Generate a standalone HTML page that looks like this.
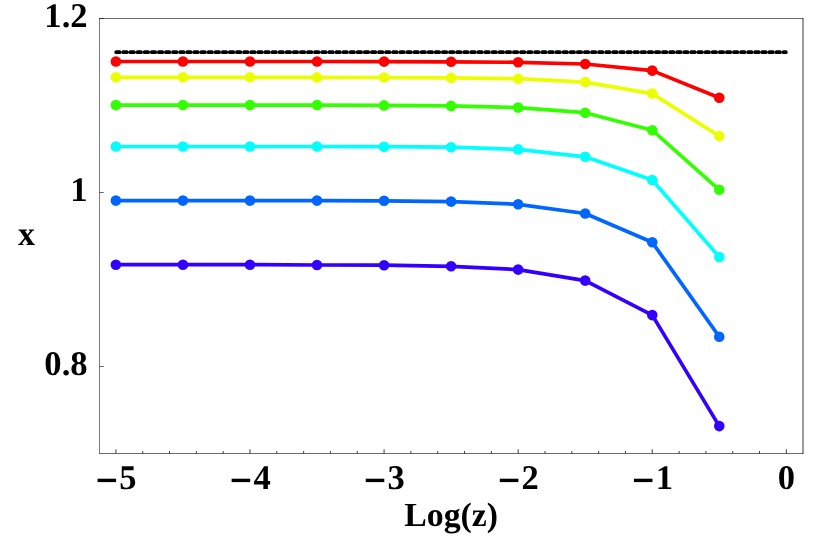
<!DOCTYPE html>
<html><head><meta charset="utf-8"><title>plot</title>
<style>
html,body{margin:0;padding:0;background:#fff;}
svg{display:block;will-change:transform;}
text{font-family:"Liberation Serif",serif;font-weight:bold;font-size:34px;fill:#000;text-rendering:geometricPrecision;}
</style></head><body>
<svg width="817" height="536" viewBox="0 0 817 536">
<g stroke="#000" stroke-width="0.75" fill="none">
<path d="M99.5,18.2 V453.8" stroke-width="0.52"/>
<path d="M99.2,453.5 H803.35 M99.2,18.5 H803.35" stroke-width="0.58"/>
<path d="M803.0,18.2 V453.8" stroke-width="0.78"/>
<line x1="115.90" y1="453.5" x2="115.90" y2="449.3"/>
<line x1="142.72" y1="453.5" x2="142.72" y2="451.0"/>
<line x1="169.54" y1="453.5" x2="169.54" y2="451.0"/>
<line x1="196.35" y1="453.5" x2="196.35" y2="451.0"/>
<line x1="223.17" y1="453.5" x2="223.17" y2="451.0"/>
<line x1="249.99" y1="453.5" x2="249.99" y2="449.3"/>
<line x1="276.81" y1="453.5" x2="276.81" y2="451.0"/>
<line x1="303.63" y1="453.5" x2="303.63" y2="451.0"/>
<line x1="330.44" y1="453.5" x2="330.44" y2="451.0"/>
<line x1="357.26" y1="453.5" x2="357.26" y2="451.0"/>
<line x1="384.08" y1="453.5" x2="384.08" y2="449.3"/>
<line x1="410.90" y1="453.5" x2="410.90" y2="451.0"/>
<line x1="437.72" y1="453.5" x2="437.72" y2="451.0"/>
<line x1="464.53" y1="453.5" x2="464.53" y2="451.0"/>
<line x1="491.35" y1="453.5" x2="491.35" y2="451.0"/>
<line x1="518.17" y1="453.5" x2="518.17" y2="449.3"/>
<line x1="544.99" y1="453.5" x2="544.99" y2="451.0"/>
<line x1="571.81" y1="453.5" x2="571.81" y2="451.0"/>
<line x1="598.62" y1="453.5" x2="598.62" y2="451.0"/>
<line x1="625.44" y1="453.5" x2="625.44" y2="451.0"/>
<line x1="652.26" y1="453.5" x2="652.26" y2="449.3"/>
<line x1="679.08" y1="453.5" x2="679.08" y2="451.0"/>
<line x1="705.90" y1="453.5" x2="705.90" y2="451.0"/>
<line x1="732.71" y1="453.5" x2="732.71" y2="451.0"/>
<line x1="759.53" y1="453.5" x2="759.53" y2="451.0"/>
<line x1="786.35" y1="453.5" x2="786.35" y2="449.3"/>
<line x1="99.5" y1="18.5" x2="103.7" y2="18.5" stroke-width="0.6"/>
<line x1="99.5" y1="192.5" x2="103.7" y2="192.5" stroke-width="0.6"/>
<line x1="99.5" y1="366.5" x2="103.7" y2="366.5" stroke-width="0.6"/>
</g>
<line x1="116.2" y1="52.2" x2="785.9" y2="52.2" stroke="#000" stroke-width="3.7" stroke-linecap="round" stroke-dasharray="3.55 3.55"/>
<polyline points="115.88,61.50 182.93,61.50 249.97,61.50 317.01,61.50 384.06,61.60 451.11,61.80 518.15,62.30 585.19,64.00 652.24,70.60 719.28,97.80" fill="none" stroke="#ff0000" stroke-width="3.7" stroke-linejoin="round"/>
<circle cx="115.88" cy="61.50" r="5.3" fill="#ff0000"/>
<circle cx="182.93" cy="61.50" r="5.3" fill="#ff0000"/>
<circle cx="249.97" cy="61.50" r="5.3" fill="#ff0000"/>
<circle cx="317.01" cy="61.50" r="5.3" fill="#ff0000"/>
<circle cx="384.06" cy="61.60" r="5.3" fill="#ff0000"/>
<circle cx="451.11" cy="61.80" r="5.3" fill="#ff0000"/>
<circle cx="518.15" cy="62.30" r="5.3" fill="#ff0000"/>
<circle cx="585.19" cy="64.00" r="5.3" fill="#ff0000"/>
<circle cx="652.24" cy="70.60" r="5.3" fill="#ff0000"/>
<circle cx="719.28" cy="97.80" r="5.3" fill="#ff0000"/>
<polyline points="115.88,77.30 182.93,77.30 249.97,77.30 317.01,77.40 384.06,77.50 451.11,77.90 518.15,78.70 585.19,82.10 652.24,93.60 719.28,136.10" fill="none" stroke="#ebff00" stroke-width="3.7" stroke-linejoin="round"/>
<circle cx="115.88" cy="77.30" r="5.3" fill="#ebff00"/>
<circle cx="182.93" cy="77.30" r="5.3" fill="#ebff00"/>
<circle cx="249.97" cy="77.30" r="5.3" fill="#ebff00"/>
<circle cx="317.01" cy="77.40" r="5.3" fill="#ebff00"/>
<circle cx="384.06" cy="77.50" r="5.3" fill="#ebff00"/>
<circle cx="451.11" cy="77.90" r="5.3" fill="#ebff00"/>
<circle cx="518.15" cy="78.70" r="5.3" fill="#ebff00"/>
<circle cx="585.19" cy="82.10" r="5.3" fill="#ebff00"/>
<circle cx="652.24" cy="93.60" r="5.3" fill="#ebff00"/>
<circle cx="719.28" cy="136.10" r="5.3" fill="#ebff00"/>
<polyline points="115.88,105.10 182.93,105.10 249.97,105.10 317.01,105.10 384.06,105.40 451.11,105.90 518.15,107.60 585.19,112.70 652.24,130.20 719.28,189.80" fill="none" stroke="#33ff00" stroke-width="3.7" stroke-linejoin="round"/>
<circle cx="115.88" cy="105.10" r="5.3" fill="#33ff00"/>
<circle cx="182.93" cy="105.10" r="5.3" fill="#33ff00"/>
<circle cx="249.97" cy="105.10" r="5.3" fill="#33ff00"/>
<circle cx="317.01" cy="105.10" r="5.3" fill="#33ff00"/>
<circle cx="384.06" cy="105.40" r="5.3" fill="#33ff00"/>
<circle cx="451.11" cy="105.90" r="5.3" fill="#33ff00"/>
<circle cx="518.15" cy="107.60" r="5.3" fill="#33ff00"/>
<circle cx="585.19" cy="112.70" r="5.3" fill="#33ff00"/>
<circle cx="652.24" cy="130.20" r="5.3" fill="#33ff00"/>
<circle cx="719.28" cy="189.80" r="5.3" fill="#33ff00"/>
<polyline points="115.88,146.50 182.93,146.50 249.97,146.50 317.01,146.50 384.06,146.70 451.11,147.20 518.15,149.40 585.19,156.80 652.24,180.00 719.28,257.00" fill="none" stroke="#00ffff" stroke-width="3.7" stroke-linejoin="round"/>
<circle cx="115.88" cy="146.50" r="5.3" fill="#00ffff"/>
<circle cx="182.93" cy="146.50" r="5.3" fill="#00ffff"/>
<circle cx="249.97" cy="146.50" r="5.3" fill="#00ffff"/>
<circle cx="317.01" cy="146.50" r="5.3" fill="#00ffff"/>
<circle cx="384.06" cy="146.70" r="5.3" fill="#00ffff"/>
<circle cx="451.11" cy="147.20" r="5.3" fill="#00ffff"/>
<circle cx="518.15" cy="149.40" r="5.3" fill="#00ffff"/>
<circle cx="585.19" cy="156.80" r="5.3" fill="#00ffff"/>
<circle cx="652.24" cy="180.00" r="5.3" fill="#00ffff"/>
<circle cx="719.28" cy="257.00" r="5.3" fill="#00ffff"/>
<polyline points="115.88,200.60 182.93,200.60 249.97,200.60 317.01,200.60 384.06,200.80 451.11,201.60 518.15,204.30 585.19,213.50 652.24,242.30 719.28,336.70" fill="none" stroke="#0066ff" stroke-width="3.7" stroke-linejoin="round"/>
<circle cx="115.88" cy="200.60" r="5.3" fill="#0066ff"/>
<circle cx="182.93" cy="200.60" r="5.3" fill="#0066ff"/>
<circle cx="249.97" cy="200.60" r="5.3" fill="#0066ff"/>
<circle cx="317.01" cy="200.60" r="5.3" fill="#0066ff"/>
<circle cx="384.06" cy="200.80" r="5.3" fill="#0066ff"/>
<circle cx="451.11" cy="201.60" r="5.3" fill="#0066ff"/>
<circle cx="518.15" cy="204.30" r="5.3" fill="#0066ff"/>
<circle cx="585.19" cy="213.50" r="5.3" fill="#0066ff"/>
<circle cx="652.24" cy="242.30" r="5.3" fill="#0066ff"/>
<circle cx="719.28" cy="336.70" r="5.3" fill="#0066ff"/>
<polyline points="115.88,264.70 182.93,264.70 249.97,264.70 317.01,265.00 384.06,265.20 451.11,266.30 518.15,269.60 585.19,280.60 652.24,315.10 719.28,426.10" fill="none" stroke="#3300ff" stroke-width="3.7" stroke-linejoin="round"/>
<circle cx="115.88" cy="264.70" r="5.3" fill="#3300ff"/>
<circle cx="182.93" cy="264.70" r="5.3" fill="#3300ff"/>
<circle cx="249.97" cy="264.70" r="5.3" fill="#3300ff"/>
<circle cx="317.01" cy="265.00" r="5.3" fill="#3300ff"/>
<circle cx="384.06" cy="265.20" r="5.3" fill="#3300ff"/>
<circle cx="451.11" cy="266.30" r="5.3" fill="#3300ff"/>
<circle cx="518.15" cy="269.60" r="5.3" fill="#3300ff"/>
<circle cx="585.19" cy="280.60" r="5.3" fill="#3300ff"/>
<circle cx="652.24" cy="315.10" r="5.3" fill="#3300ff"/>
<circle cx="719.28" cy="426.10" r="5.3" fill="#3300ff"/>
<text x="87.60" y="27.20" style="font-size:34.6px" text-anchor="end">1.2</text>
<text x="87.60" y="201.20" style="font-size:34.6px" text-anchor="end">1</text>
<text x="87.60" y="375.20" style="font-size:34.6px" text-anchor="end">0.8</text>
<rect x="97.55" y="478.7" width="18.55" height="3.4" fill="#000"/>
<text x="119.30" y="489.10" style="font-size:34.6px" text-anchor="start">5</text>
<rect x="231.64" y="478.7" width="18.55" height="3.4" fill="#000"/>
<text x="253.39" y="489.10" style="font-size:34.6px" text-anchor="start">4</text>
<rect x="365.73" y="478.7" width="18.55" height="3.4" fill="#000"/>
<text x="387.48" y="489.10" style="font-size:34.6px" text-anchor="start">3</text>
<rect x="499.82" y="478.7" width="18.55" height="3.4" fill="#000"/>
<text x="521.57" y="489.10" style="font-size:34.6px" text-anchor="start">2</text>
<rect x="633.91" y="478.7" width="18.55" height="3.4" fill="#000"/>
<text x="655.66" y="489.10" style="font-size:34.6px" text-anchor="start">1</text>
<text x="786.40" y="489.10" style="font-size:34.6px" text-anchor="middle">0</text>
<text x="18.00" y="244.60" style="font-size:34px" text-anchor="start">x</text>
<text x="451.15" y="525.80" style="font-size:33.8px" text-anchor="middle">Log(z)</text>
</svg>
</body></html>
